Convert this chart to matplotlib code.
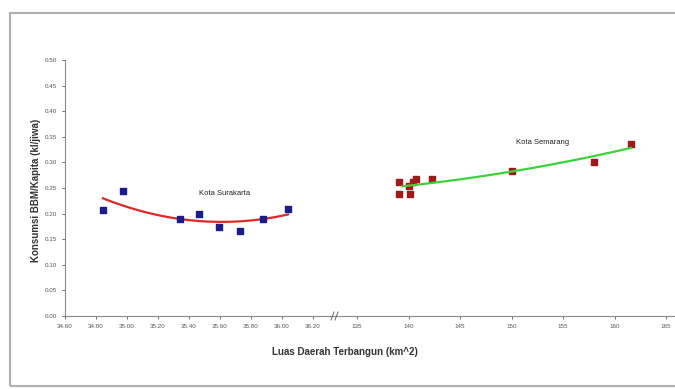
import matplotlib
matplotlib.use("Agg")
import matplotlib.pyplot as plt
import numpy as np
from matplotlib.patches import Rectangle

plt.rcParams["font.family"] = ["Liberation Sans", "DejaVu Sans"]

# Surakarta: built-up area (km^2) vs fuel use per capita
solo_area = [34.845, 34.974, 35.342, 35.465, 35.594, 35.729, 35.877, 36.039]
solo_bbm = [0.207, 0.244, 0.189, 0.199, 0.174, 0.166, 0.189, 0.209]

# Semarang
smg_area = [139.1, 139.1, 140.15, 140.05, 140.45, 140.75, 142.3, 150.05, 158.0, 161.6]
smg_bbm = [0.262, 0.238, 0.238, 0.254, 0.262, 0.268, 0.268, 0.283, 0.301, 0.336]

left_ticks = [34.60, 34.80, 35.00, 35.20, 35.40, 35.60, 35.80, 36.00, 36.20]
right_ticks = [135, 140, 145, 150, 155, 160, 165]
y_ticks = np.arange(0, 0.51, 0.05)

W, H = 675, 389
fig = plt.figure(figsize=(W / 100, H / 100), dpi=100)

# outer chart frame
fig.patches.append(Rectangle((10 / W, 3 / H), 668 / W, 373 / H, transform=fig.transFigure,
                             fill=False, edgecolor="#b0b0b0", linewidth=1.5))

bottom = (H - 316) / H
height = 256 / H
ax1 = fig.add_axes([65 / W, bottom, 270 / W, height])
ax2 = fig.add_axes([335 / W, bottom, 345 / W, height])

tick_kw = dict(labelsize=4.5, colors="#555555", length=2, width=0.6)
for ax in (ax1, ax2):
    ax.set_ylim(0, 0.5)
    ax.patch.set_alpha(0)
    ax.spines["top"].set_visible(False)
    ax.spines["right"].set_visible(False)
    ax.spines["bottom"].set_color("#888888")
    ax.spines["left"].set_color("#888888")
    ax.tick_params(**tick_kw)

ax1.set_xlim(34.60, 34.60 + 270 / 155)
ax1.set_xticks(left_ticks)
ax1.set_xticklabels([f"{t:.2f}" for t in left_ticks])
ax1.set_yticks(y_ticks)
ax1.set_yticklabels([f"{t:.2f}" for t in y_ticks])

px = 10.3  # pixels per km^2 on the right segment
ax2.set_xlim(135 - 22 / px, 135 + (345 - 22) / px)
ax2.set_xticks(right_ticks)
ax2.set_xticklabels([str(t) for t in right_ticks])
ax2.spines["left"].set_visible(False)
ax2.tick_params(axis="y", left=False, labelleft=False)

# Surakarta points + quadratic trend
c = np.polyfit(solo_area, solo_bbm, 2)
xs = np.linspace(min(solo_area), max(solo_area), 100)
ax1.plot(xs, np.polyval(c, xs), color="#e02828", linewidth=1.6, zorder=2)
ax1.scatter(solo_area, solo_bbm, marker="s", s=14, color="#1c1c8a", zorder=3)
ax1.text(35.63, 0.240, "Kota Surakarta", fontsize=5.5, ha="center", va="center", color="#222222")

# Semarang points + trend
c2 = np.polyfit(smg_area, smg_bbm, 2)
xs2 = np.linspace(139.4, max(smg_area), 100)
ax2.scatter(smg_area, smg_bbm, marker="s", s=14, color="#a01818", zorder=2)
ax2.plot(xs2, np.polyval(c2, xs2), color="#3ad33a", linewidth=1.6, zorder=3)
ax2.text(153.0, 0.338, "Kota Semarang", fontsize=5.5, ha="center", va="center", color="#222222")

# break mark on the x axis
for dx in (-2.5, 1.5):
    fig.add_artist(plt.Line2D([(335 + dx - 1.5) / W, (335 + dx + 1.5) / W],
                              [(H - 320) / H, (H - 312) / H],
                              color="#666666", linewidth=0.7))

fig.text(36 / W, (H - 190) / H, "Konsumsi BBM/Kapita (kl/jiwa)", rotation=90,
         fontsize=7, fontweight="bold", color="#333333", ha="center", va="center")
fig.text(345 / W, (H - 352) / H, "Luas Daerah Terbangun (km^2)",
         fontsize=7, fontweight="bold", color="#333333", ha="center", va="center")

fig.savefig("out.png", dpi=100)
